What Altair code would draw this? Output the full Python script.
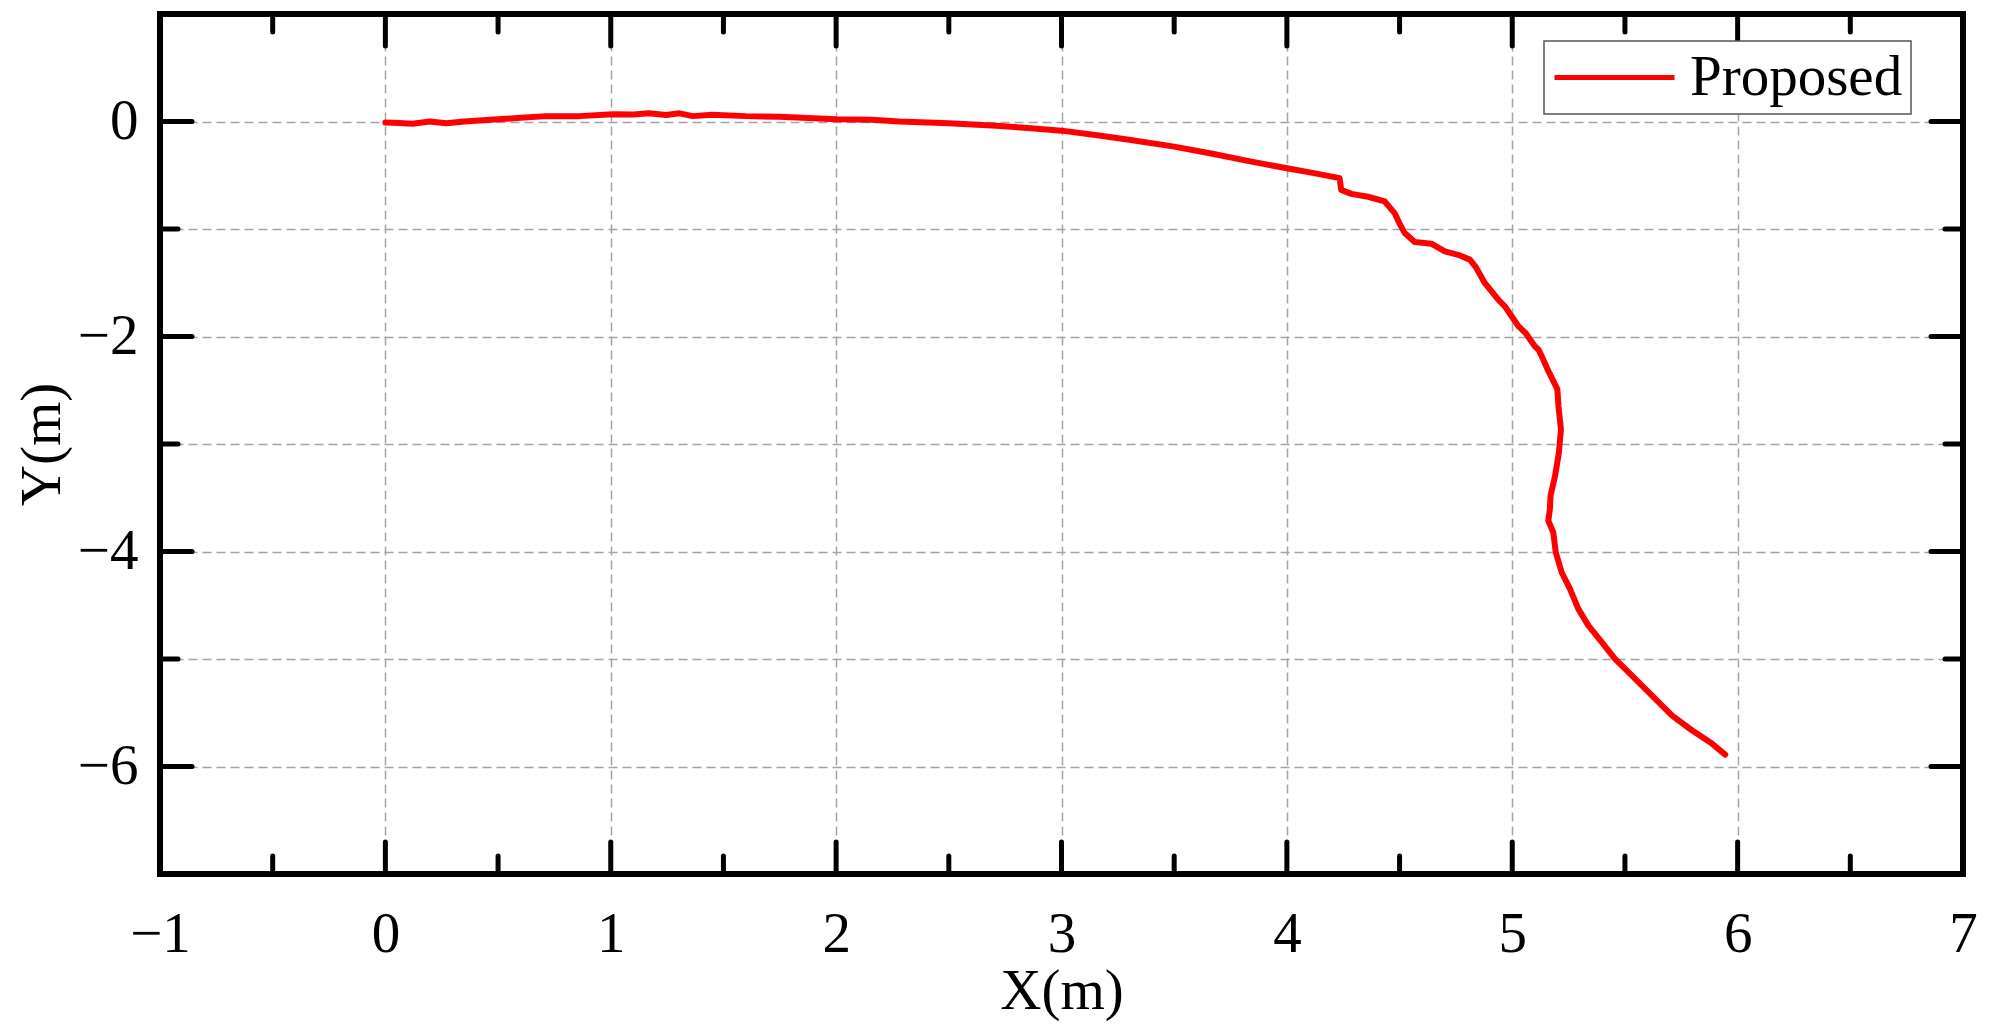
import altair as alt
import pandas as pd

# ---- trajectory (metres) ----
x_m = [0.0, 0.06, 0.12, 0.197, 0.27, 0.35, 0.5, 0.6, 0.714, 0.862,
       1.01, 1.1, 1.17, 1.245, 1.305, 1.364, 1.45, 1.6, 1.748, 1.9,
       2.0, 2.16, 2.28, 2.5, 2.71, 2.85, 3.0, 3.15, 3.30, 3.5,
       3.67, 3.82, 4.0, 4.12, 4.234, 4.241, 4.286, 4.36, 4.434, 4.478,
       4.50, 4.523, 4.567, 4.641, 4.701, 4.76, 4.812, 4.84, 4.878, 4.938,
       4.967, 5.027, 5.06, 5.1, 5.116, 5.13, 5.16, 5.20, 5.205, 5.216,
       5.207, 5.19, 5.17, 5.167, 5.16, 5.182, 5.193, 5.219, 5.256, 5.293,
       5.338, 5.397, 5.456, 5.53, 5.619, 5.708, 5.797, 5.886, 5.945]
y_m = [-0.01, -0.015, -0.02, 0.0, -0.017, 0.0, 0.02, 0.035, 0.05, 0.05,
       0.067, 0.065, 0.076, 0.06, 0.076, 0.05, 0.063, 0.05, 0.045, 0.03,
       0.02, 0.016, 0.0, -0.017, -0.04, -0.06, -0.085, -0.125, -0.17, -0.234,
       -0.30, -0.364, -0.435, -0.48, -0.527, -0.636, -0.673, -0.70, -0.744, -0.852,
       -0.95, -1.038, -1.121, -1.137, -1.208, -1.24, -1.285, -1.36, -1.502, -1.657,
       -1.719, -1.904, -1.97, -2.09, -2.12, -2.18, -2.32, -2.49, -2.647, -2.863,
       -3.08, -3.297, -3.48, -3.606, -3.714, -3.822, -4.007, -4.193, -4.348, -4.534,
       -4.689, -4.843, -4.998, -5.153, -5.338, -5.524, -5.663, -5.787, -5.889]
series_name = "Proposed"

# ---- axis tick values ----
x_major = [-1, 0, 1, 2, 3, 4, 5, 6, 7]
x_minor = [-0.5, 0.5, 1.5, 2.5, 3.5, 4.5, 5.5, 6.5]
y_major = [0, -2, -4, -6]
y_minor = [1, -1, -3, -5, -7]
x_all = sorted(x_major + x_minor)
y_all = sorted(y_major + y_minor, reverse=True)

W, H = 1803, 860
FONT = "Liberation Serif"
FS = 57
MAJ, MIN = 32, 18

df = pd.DataFrame({"x": x_m, "y": y_m, "i": list(range(len(x_m))),
                   "series": [series_name] * len(x_m)})

xscale = alt.Scale(domain=[-1, 7], nice=False, zero=False)
yscale = alt.Scale(domain=[-7, 1], nice=False, zero=False)

common_axis = dict(grid=True, gridDash=[9, 5], gridColor="#a4a4a4", gridWidth=1.5,
                   ticks=False, tickSize=0, domain=False, format="d",
                   labelFont=FONT, labelFontSize=FS, labelColor="black",
                   labelOverlap=False, labelFlush=False,
                   titleFont=FONT, titleFontSize=FS, titleFontWeight="normal",
                   titleColor="black")

x_axis = alt.Axis(values=x_all, labelExpr="datum.value % 1 == 0 ? datum.label : ''",
                  gridOpacity={"condition": {"test": "datum.value <= -1 || datum.value >= 7",
                                             "value": 0}, "value": 1},
                  labelPadding=32, titlePadding=1, **common_axis)
y_axis = alt.Axis(values=y_all, labelExpr="datum.value % 2 == 0 ? datum.label : ''",
                  gridOpacity={"condition": {"test": "datum.value <= -7 || datum.value >= 1",
                                             "value": 0}, "value": 1},
                  labelPadding=22, titlePadding=6, **common_axis)


def X():
    return alt.X("x:Q", scale=xscale, title="X(m)", axis=x_axis)


def Y():
    return alt.Y("y:Q", scale=yscale, title="Y(m)", axis=y_axis)


line = alt.Chart(df).mark_line(strokeWidth=6, strokeJoin="round", strokeCap="round").encode(
    x=X(),
    y=Y(),
    order=alt.Order("i:Q"),
    color=alt.Color("series:N", scale=alt.Scale(domain=[series_name], range=["#ff0000"]),
                    legend=alt.Legend(title=None, orient="none", legendX=1384, legendY=27,
                                      symbolType="stroke", symbolSize=14400, symbolStrokeWidth=5,
                                      clipHeight=57, padding=8, labelOffset=13,
                                      labelFont=FONT, labelFontSize=FS, labelColor="black",
                                      labelLimit=600,
                                      fillColor="white", strokeColor="#555555",
                                      cornerRadius=0)),
)

tick_style = dict(strokeWidth=5, color="black", strokeCap="round")


def xticks(vals, y0, y1):
    d = pd.DataFrame({"x": vals})
    return alt.Chart(d).mark_rule(**tick_style).encode(
        x=X(), y=alt.value(y0), y2=alt.value(y1))


def yticks(vals, x0, x1):
    d = pd.DataFrame({"y": vals})
    return alt.Chart(d).mark_rule(**tick_style).encode(
        y=Y(), x=alt.value(x0), x2=alt.value(x1))


layers = [line,
          xticks(x_major, 0, MAJ), xticks(x_minor, 0, MIN),
          xticks(x_major, H, H - MAJ), xticks(x_minor, H, H - MIN),
          yticks(y_major, 0, MAJ), yticks(y_minor, 0, MIN),
          yticks(y_major, W, W - MAJ), yticks(y_minor, W, W - MIN)]

chart = alt.layer(*layers).properties(
    width=W, height=H,
    autosize=alt.AutoSizeParams(type="none"),
    padding={"left": 152, "top": 6, "right": 24, "bottom": 148},
).configure_view(stroke="black", strokeWidth=6).configure_legend(strokeWidth=1.5)

chart.save("out.html", embed_options={"renderer": "svg", "actions": False})
